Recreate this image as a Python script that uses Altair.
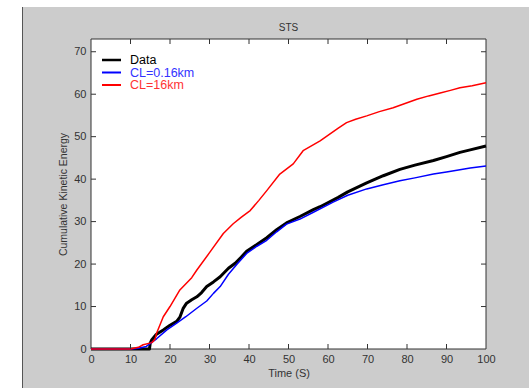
import altair as alt
import pandas as pd

# Cumulative kinetic energy curves: observed record and two model runs
data_t = [0, 14.8, 15.0, 15.4, 16.5, 18.3, 20.0, 21.7, 22.5, 23.3, 24.2, 25.5, 26.8, 28.0,
          29.3, 31.0, 32.7, 34.8, 36.5, 38.0, 39.4, 42.0, 44.5, 47.0, 49.5, 52.9, 56.3,
          58.0, 62.6, 65.0, 69.8, 74.0, 78.2, 82.0, 86.7, 90.0, 93.4, 96.0, 100.0]
data_v = [0, 0, 1.4, 2.2, 3.4, 4.5, 5.6, 6.5, 7.5, 9.5, 10.8, 11.6, 12.3, 13.3,
          14.7, 15.8, 17.0, 19.0, 20.2, 21.6, 23.0, 24.6, 26.2, 28.1, 29.7, 31.2, 32.8,
          33.5, 35.7, 37.0, 39.1, 40.8, 42.3, 43.3, 44.4, 45.3, 46.3, 46.9, 47.8]

cl016_t = [0, 10, 12, 14, 16.6, 19.2, 21.7, 24.0, 26.8, 29.3, 31.0, 32.7, 34.8, 37.0,
           39.4, 42.0, 44.5, 47.0, 49.5, 52.9, 56.3, 61.3, 65.0, 69.8, 74.0, 78.2, 82.0,
           86.7, 90.0, 93.4, 96.0, 100]
cl016_v = [0, 0, 0.2, 0.6, 2.4, 4.5, 6.1, 7.6, 9.6, 11.3, 13.1, 14.7, 17.6, 20.0,
           22.5, 24.2, 25.6, 27.6, 29.4, 30.6, 32.2, 34.6, 36.2, 37.7, 38.7, 39.6, 40.3,
           41.2, 41.7, 42.2, 42.6, 43.1]

cl16_t = [0, 10, 12, 13.2, 15.4, 16.2, 16.6, 18.3, 20.0, 22.5, 25.5, 26.8, 30.1, 33.5,
          36.0, 38.0, 40.3, 42.5, 44.5, 47.8, 51.2, 53.7, 58.0, 62.6, 64.7, 67.0, 69.8,
          73.0, 76.5, 79.5, 82.5, 85.5, 88.4, 91.0, 93.4, 96.5, 100]
cl16_v = [0, 0, 0.4, 1.0, 1.5, 2.3, 3.7, 7.6, 10.0, 13.9, 16.8, 18.6, 22.8, 27.2,
          29.5, 31.0, 32.6, 35.0, 37.3, 41.2, 43.6, 46.7, 49.0, 52.0, 53.3, 54.1, 54.9,
          55.9, 56.8, 57.8, 58.8, 59.6, 60.3, 60.9, 61.5, 62.0, 62.7]

series_names = ["Data", "CL=0.16km", "CL=16km"]
series_colors = ["#000000", "#0000ff", "#ff0000"]
series_widths = [3.0, 1.5, 1.5]

x_ticks = [0, 10, 20, 30, 40, 50, 60, 70, 80, 90, 100]
y_ticks = [0, 10, 20, 30, 40, 50, 60, 70]

title_text = "STS"

W, H = 395, 310
FONT = "Liberation Sans"
TXT = "#333333"

x_scale = alt.Scale(domain=[0, 100], nice=False, zero=False)
y_scale = alt.Scale(domain=[0, 73], nice=False)

x_axis = alt.Axis(
    values=x_ticks, title="Time (S)", tickSize=0, domain=False, grid=False,
    labelFont=FONT, labelFontSize=11, labelColor=TXT, labelPadding=4,
    labelOverlap=False, labelFlush=False,
    titleFont=FONT, titleFontSize=11, titleFontWeight="normal", titleColor=TXT,
    titlePadding=3, zindex=1)
y_axis = alt.Axis(
    values=y_ticks, title="Cumulative Kinetic Energy", tickSize=0, domain=False, grid=False,
    labelFont=FONT, labelFontSize=11, labelColor=TXT, labelPadding=5,
    labelOverlap=False, labelFlush=False,
    titleFont=FONT, titleFontSize=10.5, titleFontWeight="normal", titleColor=TXT,
    titlePadding=5, zindex=1)


def xe(field):
    return alt.X(field, scale=x_scale, axis=x_axis)


def ye(field):
    return alt.Y(field, scale=y_scale, axis=y_axis)


# Figure panel and white axes box
panel = alt.Chart(pd.DataFrame({"k": [0]})).mark_rect(color="#cccccc").encode(
    x=alt.value(-68), x2=alt.value(438), y=alt.value(-32), y2=alt.value(349)
)
panel_edge = alt.Chart(pd.DataFrame({"k": [0]})).mark_rule(color="#555555", strokeWidth=1).encode(
    x=alt.value(-68.5), y=alt.value(-32), y2=alt.value(349)
)
box = alt.Chart(pd.DataFrame({"k": [0]})).mark_rect(
    fill="white", stroke="#333333", strokeWidth=1
).encode(x=alt.value(0), x2=alt.value(W), y=alt.value(0), y2=alt.value(H))

# Plot title, centred over the axes box
title = alt.Chart(pd.DataFrame({"label": [title_text]})).mark_text(
    align="center", baseline="middle", font=FONT, fontSize=10, color=TXT
).encode(x=alt.value(W / 2), y=alt.value(-11), text="label:N")

layers = [panel, panel_edge, box, title]

curves = [(data_t, data_v), (cl016_t, cl016_v), (cl16_t, cl16_v)]
for i, (name, (ts, vs)) in enumerate(zip(series_names, curves)):
    df = pd.DataFrame({"t": ts, "v": vs, "series": name})
    layers.append(
        alt.Chart(df).mark_line(
            color=series_colors[i], strokeWidth=series_widths[i],
            interpolate="linear", strokeJoin="round"
        ).encode(x=xe("t:Q"), y=ye("v:Q"), order="t:Q")
    )

# Inward tick marks on all four sides
xt = pd.DataFrame({"t": x_ticks[1:-1]})
yt = pd.DataFrame({"v": y_ticks[1:]})
tick_style = dict(color="#333333", strokeWidth=1)
layers += [
    alt.Chart(xt).mark_rule(**tick_style).encode(
        x=xe("t:Q"), y=alt.value(H), y2=alt.value(H - 5)),
    alt.Chart(xt).mark_rule(**tick_style).encode(
        x=xe("t:Q"), y=alt.value(0), y2=alt.value(5)),
    alt.Chart(yt).mark_rule(**tick_style).encode(
        y=ye("v:Q"), x=alt.value(0), x2=alt.value(5)),
    alt.Chart(yt).mark_rule(**tick_style).encode(
        y=ye("v:Q"), x=alt.value(W), x2=alt.value(W - 5)),
]

# Legend in the upper-left corner of the axes
legend_text_colors = ["#000000", "#3333ff", "#ff3333"]
for i, name in enumerate(series_names):
    yy = 21 + 12.5 * i
    one = pd.DataFrame({"label": [name]})
    layers.append(
        alt.Chart(one).mark_rule(color=series_colors[i], strokeWidth=2.5 if i == 0 else 2).encode(
            x=alt.value(11), x2=alt.value(30), y=alt.value(yy))
    )
    layers.append(
        alt.Chart(one).mark_text(
            align="left", baseline="middle", font=FONT, fontSize=12.5,
            color=legend_text_colors[i]
        ).encode(x=alt.value(39), y=alt.value(yy), text="label:N")
    )

chart = alt.layer(*layers).properties(
    width=W, height=H,
    autosize=alt.AutoSizeParams(type="none"),
    padding={"left": 91, "top": 39, "right": 43, "bottom": 39},
    background="white",
).configure_view(stroke=None, fill=None)

chart.save("out.html", embed_options={"renderer": "svg", "actions": False})
